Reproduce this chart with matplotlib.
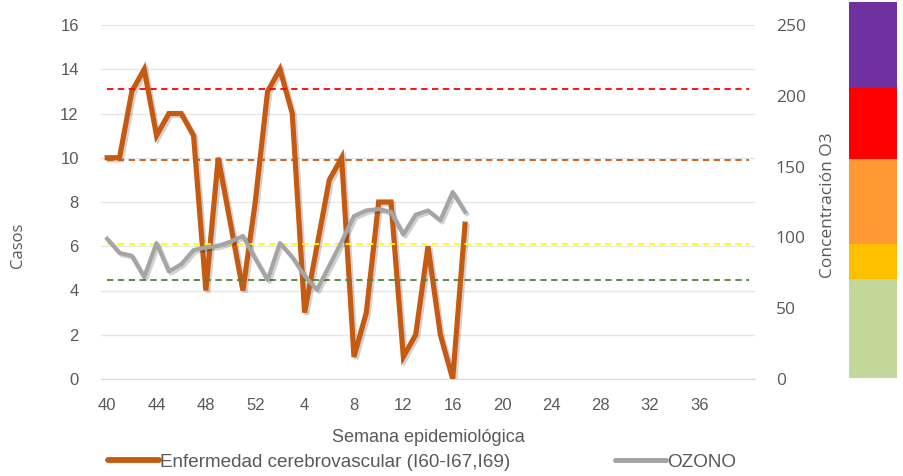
import numpy as np
import matplotlib
matplotlib.use('Agg')
import matplotlib.pyplot as plt
import matplotlib.patheffects as pe
from matplotlib.lines import Line2D

# datos
semanas = list(range(40, 53)) + list(range(1, 41))
casos = [10, 10, 13, 14, 11, 12, 12, 11, 4, 10, 7, 4, 8, 13, 14, 12, 3, 6, 9, 10,
         1, 3, 8, 8, 1, 2, 6, 2, 0, 7]
ozono = [99, 89, 87, 72, 96, 76, 81, 91, 93, 94, 97, 101, 85, 70, 96, 86, 73, 63, 80, 97,
         115, 119, 120, 118, 102, 116, 119, 112, 132, 118]
umbrales = [70, 95, 155, 205]
colores_umbral = ['#548235', '#FFFF00', '#C55A11', '#FF0000']
bandas = [0, 70, 95, 155, 205, 266]
colores_banda = ['#C4D79B', '#FFC000', '#FF9933', '#FF0000', '#7030A0']

gris_txt = '#595959'
fuente = ['Liberation Sans', 'DejaVu Sans']
fuente2 = ['Open Sans', 'DejaVu Sans']

fig = plt.figure(figsize=(9.04, 4.76), dpi=100)
ax = fig.add_axes([101/904, 1-379/476, 654/904, 354/476])
ax2 = ax.twinx()

x = np.arange(len(semanas))
xc = x[:len(casos)]

sombra = [pe.SimpleLineShadow(offset=(1.5, -1.5), shadow_color='k', alpha=0.18), pe.Normal()]

# casos (eje izquierdo)
ax.plot(xc, casos, color='#C55A11', lw=3.7, solid_joinstyle='miter', path_effects=sombra, zorder=3)
ax.set_ylim(0, 16)
ax.set_yticks(range(0, 17, 2))
ax.set_xlim(-0.5, 52.5)
ax.set_xticks(x[::4][:13])
ax.set_xticklabels([str(s) for s in semanas[::4][:13]])
ax.yaxis.grid(True, color='#E6E6E6', lw=1)
ax.set_axisbelow(True)
for s in ['top', 'right', 'left']:
    ax.spines[s].set_visible(False)
ax.spines['bottom'].set_color('#D9D9D9')
ax.tick_params(axis='both', length=0, colors=gris_txt)
ax.tick_params(axis='y', pad=16)
ax.tick_params(axis='x', pad=14)
for t in ax.get_yticklabels() + ax.get_xticklabels():
    t.set_fontfamily(fuente)
    t.set_fontsize(12)

# ozono y limites (eje derecho)
for u, c in zip(umbrales, colores_umbral):
    ax2.plot(x, [u] * len(x), color=c, lw=1.3, ls=(0, (3.5, 2.5)), zorder=2)
ax2.plot(xc, ozono, color='#A5A5A5', lw=3.0, path_effects=sombra, zorder=3)
ax2.set_ylim(0, 250)
ax2.set_yticks(range(0, 251, 50))
for s in ['top', 'right', 'left', 'bottom']:
    ax2.spines[s].set_visible(False)
ax2.tick_params(axis='y', length=0, colors=gris_txt, pad=15)
for t in ax2.get_yticklabels():
    t.set_fontfamily(fuente2)
    t.set_fontsize(12.5)

# barra de colores de calidad del aire
cb = fig.add_axes([849/904, 1-378/476, 48/904, 376/476])
cb.bar([0] * len(colores_banda), np.diff(bandas), bottom=bandas[:-1], width=1,
       color=colores_banda)
cb.set_xlim(-0.5, 0.5)
cb.set_ylim(0, bandas[-1])
cb.axis('off')

# textos
fig.text(18/904, 1-245/476, 'Casos', rotation=90, ha='center', va='center',
         fontsize=12, color=gris_txt, family=fuente2)
fig.text(828/904, 1-205/476, 'Concentración O3', rotation=90, ha='center', va='center',
         fontsize=12.5, color=gris_txt, family=fuente2)
fig.text(428/904, 1-437/476, 'Semana epidemiológica', ha='center', va='center',
         fontsize=13, color=gris_txt, family=fuente)

h1 = Line2D([], [], color='#C55A11', lw=4.2, solid_capstyle='round')
h2 = Line2D([], [], color='#A5A5A5', lw=3.6, solid_capstyle='round')
leg = fig.legend([h1, h2], ['Enfermedad cerebrovascular (I60-I67,I69)', 'OZONO'],
                 loc='center', bbox_to_anchor=(422/904, 1-462/476), ncol=2, frameon=False,
                 handlelength=2.7, handletextpad=0.1, columnspacing=5.5,
                 prop={'family': fuente, 'size': 13.6})
for t in leg.get_texts():
    t.set_color(gris_txt)

fig.savefig('out.png', dpi=100)
